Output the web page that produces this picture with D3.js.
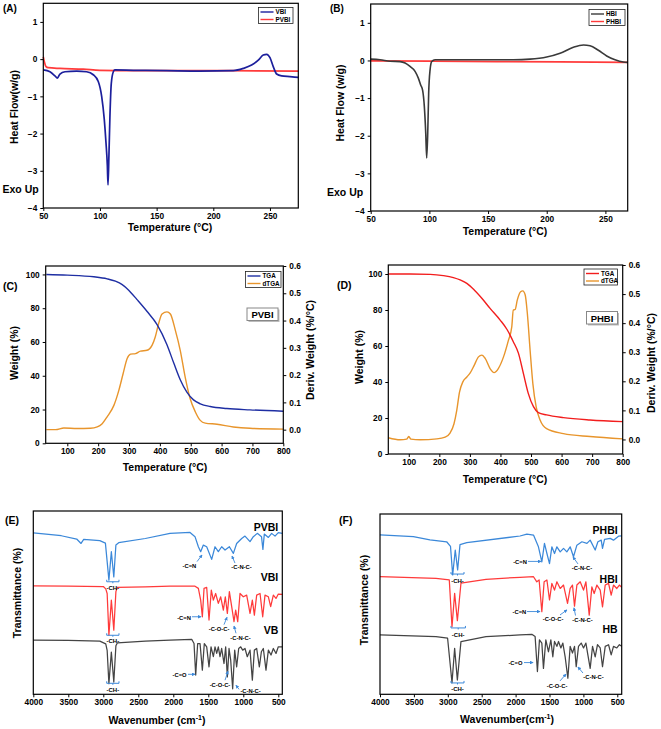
<!DOCTYPE html>
<html>
<head>
<meta charset="utf-8">
<script src="https://cdn.jsdelivr.net/npm/d3@7"></script>
<style>
body { margin: 0; background: #fff; }
text { font-family: "Liberation Sans", Arial, sans-serif; font-weight: bold; }
</style>
</head>
<body>
<svg id="fig" width="661" height="729"></svg>
<script>
// ---- tick values
const dscXTicks = [50, 100, 150, 200, 250]
const dscYTicks = [-4, -3, -2, -1, 0, 1]
const tgaXTicks = [100, 200, 300, 400, 500, 600, 700, 800]
const tgaWTicks = [0, 20, 40, 60, 80, 100]
const tgaDTicks = [0.0, 0.1, 0.2, 0.3, 0.4, 0.5, 0.6]
const irXTicks = [4000, 3500, 3000, 2500, 2000, 1500, 1000, 500]

// ---- DSC (temperature, heat flow)
const vbiDsc = [[50,-0.29],[55.9,-0.34],[60.3,-0.45],[62.4,-0.51],[64.7,-0.40],[69.1,-0.34],[79.4,-0.32],[88.2,-0.34],[94.1,-0.42],[98.5,-0.60],[101.5,-1.0],[103.8,-1.62],[105.3,-2.24],[106.5,-2.86],[107.1,-3.38],[107.9,-2.60],[108.8,-1.53],[110,-0.65],[111.8,-0.34],[113.2,-0.29],[129.4,-0.30],[158.8,-0.31],[188.2,-0.32],[217.6,-0.31],[226.5,-0.25],[233.8,-0.16],[239.7,-0.03],[244.1,0.11],[247.1,0.13],[250,0.04],[252.9,-0.20],[255.9,-0.40],[260.3,-0.45],[267.6,-0.47],[275,-0.49]]
const pvbiDsc = [[50,0.06],[50.9,-0.07],[52.4,-0.20],[54.4,-0.23],[64.7,-0.25],[85.3,-0.27],[100,-0.30],[129.4,-0.31],[188,-0.31],[275,-0.32]]
const hbiDsc = [[50,0.035],[58,0.02],[66.5,-0.02],[75,-0.03],[79.3,-0.07],[83.5,-0.16],[87.8,-0.29],[90.6,-0.47],[92.6,-0.65],[94.3,-0.80],[95.7,-1.22],[96.9,-1.93],[97.7,-2.59],[98.6,-1.93],[99.4,-0.87],[100.6,-0.25],[102,-0.03],[104.8,0.02],[114.8,0.02],[143.2,0.02],[171.6,0.02],[185.8,0.035],[200,0.09],[211.4,0.19],[222.7,0.35],[231.3,0.41],[236.9,0.39],[244,0.27],[251.1,0.12],[258.2,0.02],[265.3,-0.04],[269,-0.05]]
const phbiDsc = [[50,-0.01],[157,-0.03],[269,-0.05]]

// ---- TGA (temperature, weight %) and dTGA (temperature, %/°C)
const pvbiTga = [[32,100],[100,99.6],[186,98.6],[229,97.4],[256,96],[278,94],[299,90.7],[326,85.1],[358,78.2],[391,70.3],[423,58.4],[445,47.5],[466,37.6],[488,30.1],[509,25.7],[531,23.4],[563,21.8],[617,20.6],[692,19.8],[800,19]]
const pvbiDtga = [[32,0.0],[62,0.0],[89,0.006],[132,0.004],[175,0.005],[197,0.01],[213,0.022],[229,0.047],[251,0.089],[267,0.144],[281,0.206],[294,0.261],[305,0.277],[321,0.279],[337,0.288],[358,0.291],[375,0.31],[385,0.34],[396,0.389],[407,0.424],[423,0.432],[434,0.424],[450,0.365],[466,0.291],[482,0.193],[498,0.114],[515,0.065],[531,0.034],[547,0.024],[585,0.02],[638,0.01],[692,0.005],[800,0.002]]
const phbiTga = [[33,100],[104,100],[170,99.8],[213,99.1],[246,98],[268,96.7],[290,94.8],[312,91.5],[339,86.5],[366,80.9],[399,74.4],[421,69.3],[442,62.4],[459,55.9],[475,44.8],[491,33.7],[508,26.3],[524,23],[551,21.7],[606,20.2],[693,18.9],[800,18]]
const phbiDtga = [[33,0.006],[72,-0.001],[93,0.001],[100,0.01],[107,0.001],[137,-0.001],[192,0.002],[219,0.008],[235,0.022],[248,0.054],[257,0.1],[266,0.163],[277,0.198],[290,0.215],[301,0.229],[314,0.255],[328,0.284],[339,0.29],[350,0.279],[366,0.244],[379,0.23],[393,0.244],[410,0.284],[426,0.341],[437,0.387],[442,0.445],[448,0.447],[455,0.479],[466,0.508],[473,0.511],[481,0.497],[488,0.433],[497,0.307],[506,0.192],[517,0.111],[530,0.066],[551,0.037],[606,0.02],[693,0.01],[800,0.002]]

// ---- FTIR (wavenumber, transmittance, stacked)
const pvbiIr = [[4000,88],[3600,86.5],[3380,84.7],[3318,82.3],[3280,84.5],[3050,83.8],[2970,82.5],[2920,62.3],[2885,77.8],[2850,64],[2820,81.5],[2780,82.7],[2400,85],[2047,87.8],[1761,88.3],[1690,86],[1642,80.5],[1609,77.8],[1571,81.4],[1523,80.5],[1452,73.6],[1404,80.5],[1357,77.8],[1309,80.5],[1261,78.7],[1199,80.5],[1142,76.9],[1095,82.3],[1023,85],[976,86.3],[904,83.3],[857,86],[800,87.8],[740,86],[720,79],[700,87.4],[642,85.6],[595,87.8],[547,86.3],[500,88.2],[443,87.8]]
const vbiIr = [[4000,59.2],[3500,59],[3000,58.8],[2965,57.5],[2945,55],[2920,32.2],[2885,51.4],[2850,35],[2820,56],[2800,58.3],[2400,58.6],[2047,59],[1690,59],[1642,57.8],[1609,51.4],[1585,42.3],[1561,57.8],[1523,58.3],[1490,40.5],[1457,56.9],[1428,51.4],[1395,55],[1357,49.6],[1323,53.2],[1285,45.9],[1257,53.2],[1228,44.1],[1199,56],[1166,47.8],[1133,39.6],[1109,45.9],[1080,39.6],[1047,55],[1000,53.2],[952,54.1],[904,44.1],[871,51.4],[842,43.2],[809,54.1],[761,55],[723,42.3],[690,54.1],[642,53.2],[609,47.8],[571,54.1],[533,52.3],[500,54.7],[443,54.5]]
const vbIr = [[4000,29.5],[3500,29.4],[3050,29],[2965,27.5],[2945,24],[2920,5.8],[2885,23],[2850,6.7],[2820,26.5],[2800,28],[2400,29],[2047,29.6],[1737,30],[1704,27.7],[1680,10.5],[1652,27.7],[1618,27.7],[1585,13.2],[1557,27.7],[1523,25.9],[1490,15],[1461,25.9],[1428,20.5],[1404,25.9],[1380,22.3],[1357,25.9],[1333,20.5],[1309,25],[1276,16.8],[1252,25.9],[1228,9.5],[1204,25],[1180,18.6],[1152,3],[1123,24.1],[1095,15],[1066,25],[1037,25.9],[1009,24.1],[976,25],[943,20.5],[904,24.1],[871,7.7],[842,24.1],[809,25],[771,15],[742,23.2],[714,25],[676,13.2],[642,24.1],[604,21.4],[571,25],[533,22.3],[500,25.9],[443,25.9]]
const phbiIr = [[4000,88.4],[3508,87.4],[3263,85.6],[3017,84.6],[2960,82],[2928,66.2],[2890,80],[2855,69],[2820,83],[2720,84.1],[1935,87.8],[1834,88.8],[1736,88.3],[1663,81.8],[1613,73.4],[1574,83.7],[1538,78.1],[1500,72.5],[1465,81.8],[1426,78.1],[1391,81.8],[1342,79],[1293,80.9],[1244,79],[1195,81.8],[1146,76.3],[1096,82.7],[1022,84.6],[948,83.7],[900,85.5],[826,80],[786,84.6],[737,85.5],[718,80.9],[688,85.9],[605,86.5],[556,85.5],[482,87.7],[435,87.9]]
const hbiIr = [[4000,65.2],[3174,64.3],[2978,63.4],[2938,37.5],[2899,56],[2859,40.8],[2806,61.6],[2437,63.8],[1935,64.9],[1736,65.2],[1687,62.4],[1653,63.4],[1613,45.8],[1579,62.4],[1538,63.4],[1500,52.3],[1465,61.5],[1426,57.8],[1391,62.4],[1342,58.7],[1293,60.6],[1234,50.4],[1195,58.7],[1161,60.6],[1131,48.9],[1096,60.6],[1047,62.4],[998,57.8],[963,62.4],[914,43.9],[875,59.6],[841,55.9],[801,60.6],[752,57.8],[718,48.5],[678,60.6],[629,61.5],[590,55],[556,60.6],[507,58.7],[469,60.6],[435,59.3]]
const hbIr = [[4000,32.9],[3174,32],[3003,31.1],[2938,6.4],[2899,25.5],[2859,7.9],[2806,29.2],[2437,32],[1935,32.9],[1761,33.3],[1712,32],[1678,12.6],[1648,30.2],[1613,28.4],[1589,14.4],[1554,30.2],[1515,23.6],[1480,30.2],[1451,20.8],[1426,29.3],[1391,26.6],[1367,29.3],[1332,25.7],[1303,28.4],[1269,20.8],[1229,8.9],[1195,26.6],[1161,22.9],[1131,26.6],[1106,15.3],[1072,26.6],[1032,28.4],[998,25.7],[963,28.4],[934,21.9],[900,14.4],[865,26.6],[826,20.8],[792,27.5],[752,25.7],[718,15.3],[678,26.6],[629,27.5],[590,21.9],[556,26.6],[507,25.7],[469,27.5],[435,26.6]]

// ---- FTIR annotations: label pos, pointer from/to, bracket
const annE = [
	{ t: "-C=N", at: [1769, 70], from: [1661, 72.4], to: [1590, 76] },
	{ t: "-C-N-C-", at: [1026, 69.4], from: [1119, 71.6], to: [1161, 75.4] },
	{ t: "-C=N", at: [1847, 41.5], from: [1733, 42.3], to: [1604, 42.3], arrow: true },
	{ t: "-C-O-C-", at: [1347, 35.5], from: [1276, 38], to: [1233, 42] },
	{ t: "-C-N-C-", at: [1040, 30.6], from: [1104, 33.3], to: [1133, 37.2] },
	{ t: "-C=O", at: [1911, 10.4], from: [1790, 10.9], to: [1690, 10.9], arrow: true },
	{ t: "-C-O-C-", at: [1333, 4.9], from: [1261, 7.7], to: [1219, 12.6] },
	{ t: "-C-N-C-", at: [897, 1.6], from: [1061, 2.7], to: [1104, 4.9] }
]
const chE = [[2951, 2776, 61.4, 58], [2951, 2776, 32.2, 29], [2951, 2776, 6, 2.3]]
const annF = [
	{ t: "-C=N", at: [1935, 73.4], from: [1817, 73.7], to: [1625, 73.7], arrow: true },
	{ t: "-C-N-C-", at: [1021, 70], from: [1080, 72.3], to: [1153, 76.2] },
	{ t: "-C=N", at: [1943, 45.6], from: [1832, 45.9], to: [1640, 45.9], arrow: true },
	{ t: "-C-O-C-", at: [1448, 41.5], from: [1345, 44], to: [1242, 46.8] },
	{ t: "-C-N-C-", at: [1013, 41], from: [1116, 43.7], to: [1139, 47.9] },
	{ t: "-C=O", at: [2002, 17.4], from: [1876, 17.6], to: [1743, 17.6], arrow: true },
	{ t: "-C-O-C-", at: [1389, 4.6], from: [1345, 7.4], to: [1257, 11.2] },
	{ t: "-C-N-C-", at: [851, 9.6], from: [1006, 11.8], to: [1080, 15.1] }
]
const chF = [[2953, 2761, 66.7, 62.8], [2953, 2740, 36.8, 32.9], [2953, 2761, 6.3, 2.9]]

const svg = d3.select("#fig")
svg.append("rect").attr("width", 661).attr("height", 729).attr("fill", "#fff")

const blue = "#3b88d9", red = "#ff3a3a", gray = "#444"

function frame(x, y) {
	const [x0, x1] = x.range(), [y0, y1] = y.range()
	svg.append("rect")
		.attr("x", Math.min(x0, x1)).attr("y", Math.min(y0, y1))
		.attr("width", Math.abs(x1 - x0)).attr("height", Math.abs(y1 - y0))
		.attr("fill", "none").attr("stroke", "#000").attr("stroke-width", 1.2)
}

function styleAxis(g) {
	g.select(".domain").remove()
	g.selectAll("line").attr("stroke", "#000")
	g.selectAll("text").attr("font-size", 8.3).attr("font-weight", "bold").attr("fill", "#000")
}

function bottom(x, y, vals) {
	svg.append("g").attr("transform", `translate(0,${y.range()[0]})`)
		.call(d3.axisBottom(x).tickValues(vals).tickSize(3).tickPadding(2).tickFormat(d3.format("d")))
		.call(styleAxis)
}

function left(x, y, vals, fmt) {
	svg.append("g").attr("transform", `translate(${x.range()[0]},0)`)
		.call(d3.axisLeft(y).tickValues(vals).tickSize(3).tickPadding(3).tickFormat(fmt))
		.call(styleAxis)
}

function right(x, y, vals, fmt) {
	svg.append("g").attr("transform", `translate(${x.range()[1]},0)`)
		.call(d3.axisRight(y).tickValues(vals).tickSize(3).tickPadding(3).tickFormat(fmt))
		.call(styleAxis)
}

function curve(x, y, data, color, width, smooth) {
	const line = d3.line().x(d => x(d[0])).y(d => y(d[1]))
	if (smooth) line.curve(d3.curveMonotoneX)
	svg.append("path").datum(data)
		.attr("d", line).attr("fill", "none")
		.attr("stroke", color).attr("stroke-width", width)
		.attr("stroke-linejoin", "round")
}

function label(x, y, txt, size, opts = {}) {
	const t = svg.append("text").attr("x", x).attr("y", y)
		.attr("font-size", size).attr("text-anchor", opts.anchor || "start")
		.attr("fill", opts.fill || "#000")
		.text(txt)
	if (opts.rot) t.attr("transform", `rotate(-90,${x},${y})`)
	return t
}

function legend(x0, y0, w, names, colors) {
	svg.append("rect").attr("x", x0).attr("y", y0).attr("width", w).attr("height", 16)
		.attr("fill", "#fff").attr("stroke", "#222").attr("stroke-width", 0.8)
	names.forEach((n, i) => {
		const yy = y0 + 4.5 + i * 7.5
		svg.append("line").attr("x1", x0 + 2).attr("x2", x0 + 15).attr("y1", yy).attr("y2", yy)
			.attr("stroke", colors[i]).attr("stroke-width", 1.4)
		label(x0 + 17, yy + 2.2, n, 6.3)
	})
}

function tagBox(x0, y0, txt) {
	svg.append("rect").attr("x", x0 + 1.5).attr("y", y0 + 1.5).attr("width", 31).attr("height", 12.5).attr("fill", "#bbb")
	svg.append("rect").attr("x", x0).attr("y", y0).attr("width", 31).attr("height", 12.5)
		.attr("fill", "#fff").attr("stroke", "#888").attr("stroke-width", 1)
	label(x0 + 15.5, y0 + 10, txt, 9.5, { anchor: "middle" })
}

// ===== (A) DSC VBI / PVBI
{
	const x = d3.scaleLinear([50, 275], [43.3, 298.3])
	const y = d3.scaleLinear([-4, 1.5], [208, 3.3])
	curve(x, y, pvbiDsc, "#ff3b3b", 1.7, true)
	curve(x, y, vbiDsc, "#1c1f9c", 1.7, true)
	frame(x, y)
	bottom(x, y, dscXTicks)
	left(x, y, dscYTicks, d3.format("d"))
	legend(258.5, 7.5, 34.5, ["VBI", "PVBI"], ["#1c1f9c", "#ff3b3b"])
	label(3, 12, "(A)", 10)
	label(170, 231, "Temperature (°C)", 10.5, { anchor: "middle" })
	label(18, 107, "Heat Flow(w/g)", 10.5, { anchor: "middle", rot: true })
	label(2.5, 193, "Exo Up", 10.5)
}

// ===== (B) DSC HBI / PHBI
{
	const x = d3.scaleLinear([50, 269], [370.7, 627.7])
	const y = d3.scaleLinear([-4, 1.5], [211, 4])
	curve(x, y, phbiDsc, "#ff3b3b", 1.7, true)
	curve(x, y, hbiDsc, "#3a3a3a", 1.6, true)
	frame(x, y)
	bottom(x, y, dscXTicks)
	left(x, y, dscYTicks, d3.format("d"))
	legend(589, 9.5, 36, ["HBI", "PHBI"], ["#3a3a3a", "#ff3b3b"])
	label(330, 12, "(B)", 10)
	label(505, 235, "Temperature (°C)", 10.5, { anchor: "middle" })
	label(343.5, 103, "Heat Flow (w/g)", 10.5, { anchor: "middle", rot: true })
	label(327, 196, "Exo Up", 10.5)
}

// ===== (C) TGA PVBI
{
	const x = d3.scaleLinear([30, 800], [45.7, 283.3])
	const yW = d3.scaleLinear([0, 105], [443.3, 266])
	const yD = d3.scaleLinear([-0.05, 0.6], [443.3, 266])
	curve(x, yD, pvbiDtga, "#e8952c", 1.4, true)
	curve(x, yW, pvbiTga, "#1e2ea3", 1.4, true)
	frame(x, yW)
	bottom(x, yW, tgaXTicks)
	left(x, yW, tgaWTicks, d3.format("d"))
	right(x, yD, tgaDTicks, d3.format(".1f"))
	legend(245.5, 271.5, 35.5, ["TGA", "dTGA"], ["#1e2ea3", "#e8952c"])
	tagBox(247, 308, "PVBI")
	label(3, 290, "(C)", 10.5)
	label(165, 471, "Temperature (°C)", 10.5, { anchor: "middle" })
	label(18, 353, "Weight (%)", 10.5, { anchor: "middle", rot: true })
	label(313.5, 350, "Deriv. Weight (%/°C)", 10.5, { anchor: "middle", rot: true })
}

// ===== (D) TGA PHBI
{
	const x = d3.scaleLinear([33, 800], [388.3, 622.7])
	const yW = d3.scaleLinear([0, 105], [454, 265])
	const yD = d3.scaleLinear([-0.05, 0.6], [454, 265])
	curve(x, yD, phbiDtga, "#e8952c", 1.4, true)
	curve(x, yW, phbiTga, "#f21d1d", 1.4, true)
	frame(x, yW)
	bottom(x, yW, tgaXTicks)
	left(x, yW, tgaWTicks, d3.format("d"))
	right(x, yD, tgaDTicks, d3.format(".1f"))
	legend(584, 269, 33.5, ["TGA", "dTGA"], ["#f21d1d", "#e8952c"])
	tagBox(586.5, 311.5, "PHBI")
	label(337, 289, "(D)", 10.5)
	label(505, 483, "Temperature (°C)", 10.5, { anchor: "middle" })
	label(363, 357, "Weight (%)", 10.5, { anchor: "middle", rot: true })
	label(655, 363, "Deriv. Weight (%/°C)", 10.5, { anchor: "middle", rot: true })
}

// ===== FTIR panels
function irPanel(x, y, spectra, names, ann, ch) {
	spectra.forEach((s, i) => curve(x, y, s, [blue, red, gray][i], 1.25, false))
	frame(x, y)
	bottom(x, y, irXTicks)
	names.forEach(n => label(x.range()[1] - 4, y(n[1]), n[0], 10.5, { anchor: "end" }))
	ann.forEach(a => {
		svg.append("line")
			.attr("x1", x(a.from[0])).attr("y1", y(a.from[1]))
			.attr("x2", x(a.to[0])).attr("y2", y(a.to[1]))
			.attr("stroke", blue).attr("stroke-width", 0.9)
			.attr("marker-end", "url(#arr)")
		label(x(a.at[0]), y(a.at[1]) + 2, a.t, 5.8, { anchor: "middle" })
	})
	ch.forEach(c => {
		const xa = x(c[0]), xb = x(c[1]), yy = y(c[2]), xm = (xa + xb) / 2
		svg.append("path")
			.attr("d", `M${xa},${yy - 2}V${yy}H${xb}V${yy - 2}M${xm},${yy}v1.5`)
			.attr("fill", "none").attr("stroke", blue).attr("stroke-width", 1)
		label(xm, y(c[3]) + 2, "-CH-", 6, { anchor: "middle" })
	})
}

svg.append("defs").append("marker").attr("id", "arr")
	.attr("viewBox", "0 0 6 6").attr("refX", 5).attr("refY", 3)
	.attr("markerWidth", 4).attr("markerHeight", 4).attr("orient", "auto")
	.append("path").attr("d", "M0,0L6,3L0,6Z").attr("fill", blue)

// (E)
{
	const x = d3.scaleLinear([4000, 443], [33.3, 282.3])
	const y = d3.scaleLinear([0, 100], [694.3, 511])
	irPanel(x, y, [pvbiIr, vbiIr, vbIr], [["PVBI", 89], ["VBI", 62], ["VB", 33]], annE, chE)
	label(5, 524, "(E)", 10.5)
	const t = label(157, 724, "Wavenumber (cm", 10.5, { anchor: "middle" })
	t.append("tspan").attr("dy", -4).attr("font-size", 7).text("-1")
	t.append("tspan").attr("dy", 4).text(")")
	label(21, 593, "Transmittance (%)", 10.5, { anchor: "middle", rot: true })
}

// (F)
{
	const x = d3.scaleLinear([4000, 435], [380, 621.7])
	const y = d3.scaleLinear([0, 100], [694.3, 514])
	irPanel(x, y, [phbiIr, hbiIr, hbIr], [["PHBI", 89], ["HBI", 62], ["HB", 34]], annF, chF)
	label(339, 524, "(F)", 10.5)
	const t = label(507, 723, "Wavenumber(cm", 10.5, { anchor: "middle" })
	t.append("tspan").attr("dy", -4).attr("font-size", 7).text("-1")
	t.append("tspan").attr("dy", 4).text(")")
	label(368, 600, "Transmittance (%)", 10.5, { anchor: "middle", rot: true })
}
</script>
</body>
</html>
